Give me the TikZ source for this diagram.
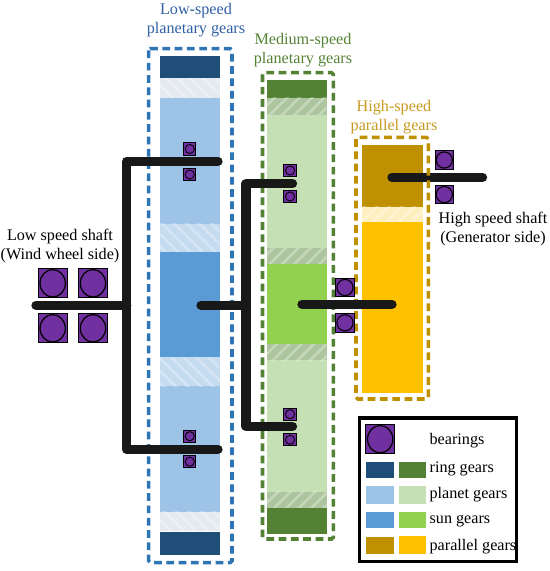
\documentclass[tikz,border=0pt]{standalone}
\usepackage{fontspec}
\setmainfont{Liberation Serif}
\usetikzlibrary{patterns.meta}
\definecolor{ringblue}{HTML}{1F4E79}
\definecolor{planetblue}{HTML}{9DC3E6}
\definecolor{sunblue}{HTML}{5B9BD5}
\definecolor{framblue}{HTML}{2E75B6}
\definecolor{textblue}{HTML}{2F5FA5}
\definecolor{ringgreen}{HTML}{548235}
\definecolor{planetgreen}{HTML}{C5E0B4}
\definecolor{sungreen}{HTML}{92D050}
\definecolor{darkgold}{HTML}{BF9000}
\definecolor{yellowgold}{HTML}{FFC000}
\definecolor{textgold}{HTML}{C99A20}
\definecolor{bearingpurple}{HTML}{7030A0}
\definecolor{shaftblack}{HTML}{181818}

\begin{document}
\begin{tikzpicture}[
  x=0.02cm, y=-0.02cm,
  title/.style={font=\fontsize{9.2}{10.8}\selectfont, align=center, text=#1},
  tag/.style={font=\fontsize{9.2}{10.8}\selectfont, anchor=west, inner sep=0pt},
  frame/.style={draw=#1, line width=2pt, dash pattern=on 4.4pt off 2.6pt, rounded corners=1pt},
  shaft/.style={draw=shaftblack, line width=5.3pt, line cap=round, line join=round},
  bearing/.style={rectangle, draw=black, fill=bearingpurple, line width=0.6pt, inner sep=0pt, outer sep=0pt},
  smallbearing/.style={bearing, minimum size=7pt, path picture={\draw[line width=0.5pt] (path picture bounding box.center) circle (2.6pt);}},
  midbearing/.style={bearing, minimum size=10.5pt, path picture={\draw[line width=0.6pt] (path picture bounding box.center) circle (4.6pt);}},
  bigbearing/.style={bearing, minimum size=16.5pt, path picture={\draw[line width=0.7pt] (path picture bounding box.center) ellipse (7.2pt and 7.8pt);}},
  hatchdown/.style={fill=#1, postaction={pattern={Lines[angle=-45,distance=5pt,line width=1.5pt]}, pattern color=white, opacity=0.3}},
  hatchup/.style={fill=#1, postaction={pattern={Lines[angle=45,distance=5pt,line width=1.5pt]}, pattern color=white, opacity=0.3}},
]
  \useasboundingbox (0,0) rectangle (550,571);

  % Low-speed column
  \foreach \ya/\yb/\col in {55.7/78.3/ringblue, 98/223.7/planetblue, 251.7/357.3/sunblue, 386/511.7/planetblue, 532.3/555/ringblue}
    \fill[\col] (159.5,\ya) rectangle (219.5,\yb);
  \foreach \ya/\yb/\col in {78.3/98/ringblue!12, 223.7/251.7/planetblue!60, 357.3/386/planetblue!60, 511.7/531/ringblue!12}
    \path[hatchdown=\col] (159.5,\ya) rectangle (219.5,\yb);

  % Medium-speed column
  \foreach \ya/\yb/\col in {80/98/ringgreen, 115/248.3/planetgreen, 263.7/344.3/sungreen, 360/491.7/planetgreen, 507.7/534.3/ringgreen}
    \fill[\col] (267,\ya) rectangle (326.7,\yb);
  \foreach \ya/\yb in {98/115, 248.3/263.7, 344.3/360, 491.7/507.7}
    \path[hatchup=black!12!planetgreen] (267,\ya) rectangle (326.7,\yb);

  % High-speed column
  \fill[darkgold] (362,144.7) rectangle (422.7,206.7);
  \path[hatchup=yellowgold!25] (362,206.7) rectangle (422.7,222);
  \fill[yellowgold] (362,222) rectangle (422.7,393.3);

  % Dashed frames
  \draw[frame=framblue] (148.7,48.7) rectangle (232,562.7);
  \draw[frame=ringgreen] (262.5,72.7) rectangle (333.3,539);

  % Output shaft goes under the gold frame
  \coordinate (outa) at (392,177.3);
  \coordinate (outb) at (482.5,177.3);
  \draw[shaft] (outa) -- (outb);
  \draw[frame=darkgold] (356,137.3) rectangle (428.3,399);

  % Shafts
  \coordinate (lowin) at (36,305.3);
  \coordinate (lowmid) at (126.7,305.3);
  \coordinate (lowtop) at (218,161.3);
  \coordinate (lowbot) at (218,449.3);
  \coordinate (medin) at (201,305.3);
  \coordinate (medmid) at (246,305.3);
  \coordinate (medtop) at (292.5,183.7);
  \coordinate (medbot) at (292.5,426.3);
  \coordinate (higha) at (302,304.3);
  \coordinate (highb) at (392,304.3);
  \draw[shaft] (lowin) -- (lowmid);
  \draw[shaft] (lowtop) -| (lowmid) |- (lowbot);
  \draw[shaft] (medin) -- (medmid);
  \draw[shaft] (medtop) -| (medmid) |- (medbot);
  \draw[shaft] (higha) -- (highb);

  % Bearings
  \node[smallbearing] (blowa) at (189.8,149) {};
  \node[smallbearing] (blowb) at (189.8,174.5) {};
  \node[smallbearing] (blowc) at (189.8,436.2) {};
  \node[smallbearing] (blowd) at (189.8,461.7) {};
  \node[smallbearing] (bmeda) at (290,170.5) {};
  \node[smallbearing] (bmedb) at (290,196.5) {};
  \node[smallbearing] (bmedc) at (290,414.2) {};
  \node[smallbearing] (bmedd) at (290,439.8) {};
  \node[midbearing] (bhigha) at (345,287.5) {};
  \node[midbearing] (bhighb) at (345,322.8) {};
  \node[midbearing] (bouta) at (444.3,160) {};
  \node[midbearing] (boutb) at (444.3,194.6) {};
  \node[bigbearing] (binb) at (52.7,283.3) {};
  \node[bigbearing] (binc) at (93,283.3) {};
  \node[bigbearing] (bind) at (52.7,328.3) {};
  \node[bigbearing] (bine) at (93,328.3) {};

  % Labels
  \node[title=textblue] (lowlabel) at (196,20) {Low-speed\\planetary gears};
  \node[title=ringgreen] (medlabel) at (303,50) {Medium-speed\\planetary gears};
  \node[title=textgold] (highlabel) at (394,117.5) {High-speed\\parallel gears};
  \node[title=black] (lowshaft) at (60,246) {Low speed shaft\\(Wind wheel side)};
  \node[title=black] (highshaft) at (493,229.5) {High speed shaft\\(Generator side)};

  % Legend
  \draw[line width=2pt] (359.7,418) rectangle (516.7,561.7);
  \node[bigbearing] (legbearing) at (380.2,439.2) {};
  \fill[ringblue] (366,461.7) rectangle (393.5,478.3);
  \fill[ringgreen] (399,461.7) rectangle (426.3,478.3);
  \fill[planetblue] (366,486) rectangle (393.5,503.7);
  \fill[planetgreen] (399,486) rectangle (426.3,503.7);
  \fill[sunblue] (366,511.7) rectangle (393.5,528.3);
  \fill[sungreen] (399,511.7) rectangle (426.3,528.3);
  \fill[darkgold] (366,537) rectangle (393.5,554);
  \fill[yellowgold] (399,536) rectangle (426.3,554);
  \node[tag] (legb) at (429.3,440.7) {bearings};
  \node[tag] (legr) at (429.3,469) {ring gears};
  \node[tag] (legp) at (429.3,495) {planet gears};
  \node[tag] (legs) at (429.3,520.7) {sun gears};
  \node[tag] (legg) at (429.3,546.7) {parallel gears};
\end{tikzpicture}
\end{document}
